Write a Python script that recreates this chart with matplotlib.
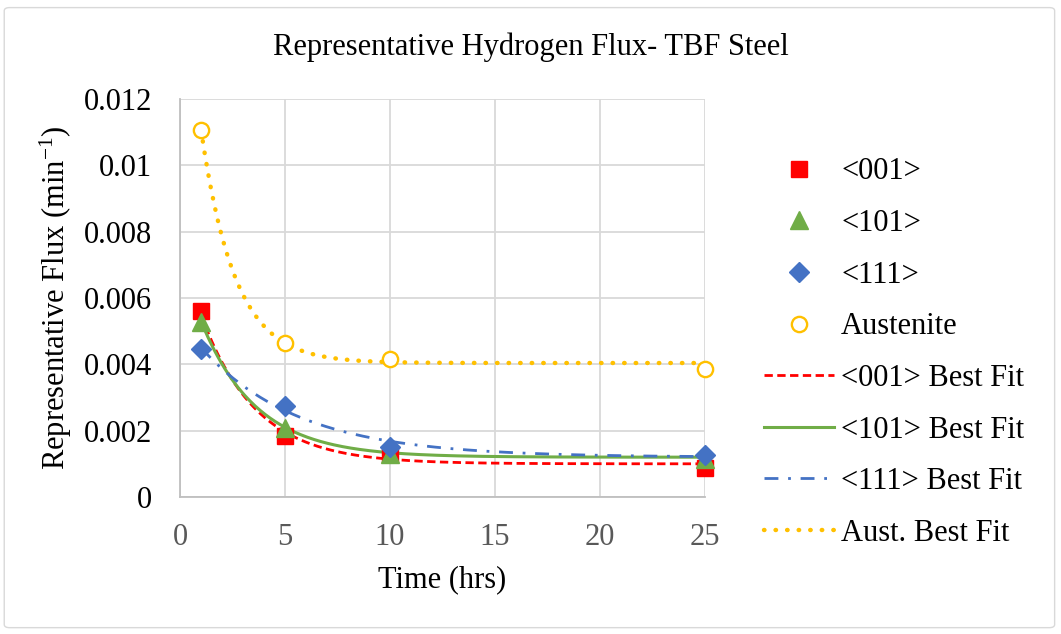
import numpy as np
import matplotlib
matplotlib.use('Agg')
import matplotlib.pyplot as plt
from matplotlib.patches import FancyBboxPatch

plt.rcParams['font.family'] = ['Liberation Serif', 'DejaVu Serif']
plt.rcParams['mathtext.fontset'] = 'custom'
plt.rcParams['mathtext.rm'] = 'Liberation Serif'

# Measured data (hrs, flux in 1/min)
time_hrs = [1, 5, 10, 25]
flux_001 = [0.00561, 0.00184, 0.00130, 0.00088]
flux_101 = [0.00528, 0.00208, 0.00130, 0.00115]
flux_111 = [0.00446, 0.00274, 0.00150, 0.00128]
flux_aust = [0.01107, 0.00464, 0.00416, 0.00386]

# Exponential best-fit parameters: a*exp(-b*t) + c
fit_001 = (0.00662, 0.386, 0.00100)
fit_101 = (0.00599, 0.379, 0.00120)
fit_111 = (0.00409, 0.214, 0.00120)
fit_aust = (0.01301, 0.615, 0.00404)

RED = '#ff0000'
GREEN = '#70ad47'
BLUE = '#4472c4'
GOLD = '#ffc000'
FS = 22


def exp_fit(t, params):
    a, b, c = params
    return a * np.exp(-b * t) + c


fig = plt.figure(figsize=(10.61, 6.34), dpi=100)
fig.patches.append(FancyBboxPatch((0.004, 0.01), 0.99, 0.978,
                                  boxstyle='round,pad=0,rounding_size=0.005',
                                  transform=fig.transFigure, fill=False,
                                  edgecolor='#d9d9d9', linewidth=1.0))
ax = fig.add_axes([0.1697, 0.2161, 0.4948, 0.6277])

t_fit = np.linspace(1, 25, 300)

# markers are drawn unclipped so the points sitting on x=25 stay whole
ax.plot(time_hrs, flux_001, 's', color=RED, markersize=11, label='<001>',
        zorder=3, clip_on=False)
ax.plot(time_hrs, flux_101, '^', color=GREEN, markersize=12.5, label='<101>',
        zorder=4, clip_on=False)
ax.plot(time_hrs, flux_111, 'D', color=BLUE, markersize=10.5, label='<111>',
        zorder=5, clip_on=False)
ax.plot(time_hrs, flux_aust, 'o', color=GOLD, markerfacecolor='white',
        markeredgewidth=1.7, markersize=11, label='Austenite', zorder=3,
        clip_on=False)

ax.plot(t_fit, exp_fit(t_fit, fit_001), color=RED, linestyle=(0, (3, 1.6)),
        linewidth=2.0, label='<001> Best Fit', zorder=2)
ax.plot(t_fit, exp_fit(t_fit, fit_101), color=GREEN, linestyle='-',
        linewidth=2.2, label='<101> Best Fit', zorder=2)
ax.plot(t_fit, exp_fit(t_fit, fit_111), color=BLUE, linestyle=(0, (5, 3.5, 1, 3.5)),
        linewidth=2.0, label='<111> Best Fit', zorder=2)
ax.plot(t_fit, exp_fit(t_fit, fit_aust), color=GOLD, linestyle=(0, (0.1, 2.5)),
        dash_capstyle='round', linewidth=3.2, label='Aust. Best Fit', zorder=2)

ax.set_xlim(0, 25)
ax.set_ylim(0, 0.012)
ax.set_xticks([0, 5, 10, 15, 20, 25])
ax.set_yticks([0, 0.002, 0.004, 0.006, 0.008, 0.01, 0.012])
ax.set_yticklabels(['0', '0.002', '0.004', '0.006', '0.008', '0.01', '0.012'])
ax.grid(True, color='#d9d9d9', linewidth=1.3)
ax.set_axisbelow(True)
for side in ['top', 'right']:
    ax.spines[side].set_visible(False)
for side in ['left', 'bottom']:
    ax.spines[side].set_color('#bfbfbf')
    ax.spines[side].set_linewidth(1.3)
ax.tick_params(axis='both', length=0, labelsize=FS)
ax.tick_params(axis='x', labelcolor='#595959', pad=19)
ax.tick_params(axis='y', labelcolor='black', pad=20)

ax.set_xlabel('Time (hrs)', fontsize=FS, labelpad=9)
ax.set_ylabel(r'Representative Flux (min$\mathregular{^{-1}}$)', fontsize=FS, labelpad=7)
fig.text(0.5, 0.925, 'Representative Hydrogen Flux- TBF Steel', ha='center',
         va='center', fontsize=FS)

leg = fig.legend(loc='upper left', bbox_to_anchor=(0.694, 0.795), frameon=False,
                 fontsize=FS, handlelength=2.3, handletextpad=0.23,
                 labelspacing=0.74, markerscale=1.0)

fig.savefig('out.png', dpi=100)
